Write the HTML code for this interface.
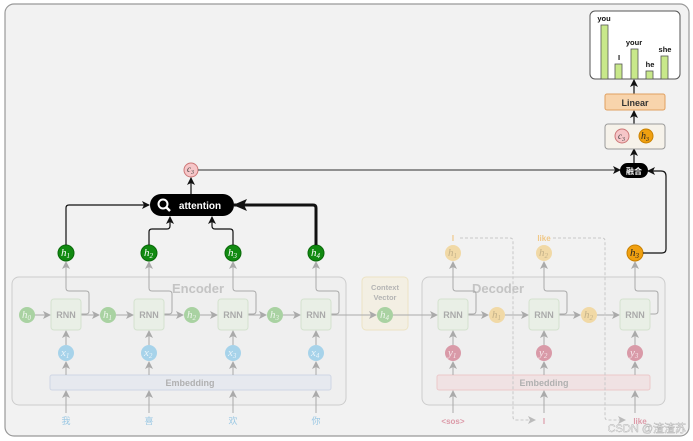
<!DOCTYPE html>
<html><head><meta charset="utf-8"><style>
html,body{margin:0;padding:0;background:#fff;}
svg{display:block;font-family:"Liberation Sans","Noto Sans CJK SC",sans-serif;}
</style></head><body>
<svg width="693" height="441" viewBox="0 0 693 441" xmlns="http://www.w3.org/2000/svg">
<defs>
<marker id="ag" markerWidth="8" markerHeight="8" refX="7" refY="4" orient="auto" markerUnits="userSpaceOnUse"><path d="M0,0 L8,4 L0,8 L2,4z" fill="#aaa"/></marker>
<marker id="ab" markerWidth="8" markerHeight="8" refX="7" refY="4" orient="auto" markerUnits="userSpaceOnUse"><path d="M0,0 L8,4 L0,8 L2,4z" fill="#111"/></marker>
<marker id="abig" markerWidth="14" markerHeight="12" refX="13" refY="6" orient="auto" markerUnits="userSpaceOnUse"><path d="M0,0 L14,6 L0,12 L3,6z" fill="#111"/></marker>
<marker id="ad" markerWidth="8" markerHeight="8" refX="7" refY="4" orient="auto" markerUnits="userSpaceOnUse"><path d="M0,0 L8,4 L0,8 L2,4z" fill="#bbb"/></marker>
</defs>
<rect x="5" y="4" width="684" height="432" rx="9" fill="#f2f2f2" stroke="#999" stroke-width="1.2"/>

<rect x="12" y="277" width="334" height="128" rx="7" fill="#efefef" stroke="#ccc"/>
<text x="198" y="293" font-size="13" font-weight="bold" fill="#c4c4c4" text-anchor="middle">Encoder</text>
<rect x="50" y="375" width="281" height="15" rx="2" fill="#e6e9ef" stroke="#cfd6e4"/>
<text x="190" y="386" font-size="9" font-weight="bold" fill="#b0b0b0" text-anchor="middle">Embedding</text>
<rect x="422" y="277" width="243" height="128" rx="7" fill="#efefef" stroke="#ccc"/>
<text x="498" y="293" font-size="13" font-weight="bold" fill="#c4c4c4" text-anchor="middle">Decoder</text>
<rect x="437" y="375" width="213" height="15" rx="2" fill="#f0e2e3" stroke="#ebc8ca"/>
<text x="544" y="386" font-size="9" font-weight="bold" fill="#b0b0b0" text-anchor="middle">Embedding</text>
<rect x="362" y="277" width="46" height="53" rx="4" fill="#f3efe3" stroke="#ece3c4"/>
<text x="385" y="290" font-size="7.5" font-weight="bold" fill="#b4b4b4" text-anchor="middle">Context</text>
<text x="385" y="300" font-size="7.5" font-weight="bold" fill="#b4b4b4" text-anchor="middle">Vector</text>

<g fill="none" stroke="#aaa" stroke-width="1">
<line x1="35" y1="315" x2="50" y2="315" marker-end="url(#ag)"/>
<line x1="81" y1="315" x2="99" y2="315" marker-end="url(#ag)"/>
<line x1="116" y1="315" x2="133" y2="315" marker-end="url(#ag)"/>
<line x1="164" y1="315" x2="183" y2="315" marker-end="url(#ag)"/>
<line x1="200" y1="315" x2="217" y2="315" marker-end="url(#ag)"/>
<line x1="248" y1="315" x2="266" y2="315" marker-end="url(#ag)"/>
<line x1="283" y1="315" x2="300" y2="315" marker-end="url(#ag)"/>
<line x1="331" y1="315" x2="376" y2="315" marker-end="url(#ag)"/>
<line x1="393" y1="315" x2="437" y2="315" marker-end="url(#ag)"/>
<line x1="468" y1="315" x2="488" y2="315" marker-end="url(#ag)"/>
<line x1="505" y1="315" x2="528" y2="315" marker-end="url(#ag)"/>
<line x1="559" y1="315" x2="580" y2="315" marker-end="url(#ag)"/>
<line x1="597" y1="315" x2="619" y2="315" marker-end="url(#ag)"/>
<path d="M81,314 H86 Q89,314 89,311 V294 Q89,291 86,291 H69 Q66,291 66,288 V262" marker-end="url(#ag)"/>
<path d="M164,314 H169 Q172,314 172,311 V294 Q172,291 169,291 H152 Q149,291 149,288 V262" marker-end="url(#ag)"/>
<path d="M248,314 H253 Q256,314 256,311 V294 Q256,291 253,291 H236 Q233,291 233,288 V262" marker-end="url(#ag)"/>
<path d="M331,314 H336 Q339,314 339,311 V294 Q339,291 336,291 H319 Q316,291 316,288 V262" marker-end="url(#ag)"/>
<path d="M468,314 H473 Q476,314 476,311 V294 Q476,291 473,291 H456 Q453,291 453,288 V262" marker-end="url(#ag)"/>
<path d="M559,314 H564 Q567,314 567,311 V294 Q567,291 564,291 H547 Q544,291 544,288 V262" marker-end="url(#ag)"/>
<path d="M650,314 H655 Q658,314 658,311 V294 Q658,291 655,291 H638 Q635,291 635,288 V262" marker-end="url(#ag)"/>
<line x1="66" y1="345" x2="66" y2="331" marker-end="url(#ag)"/><line x1="66" y1="375" x2="66" y2="362" marker-end="url(#ag)"/><line x1="66" y1="413" x2="66" y2="391" marker-end="url(#ag)"/>
<line x1="149" y1="345" x2="149" y2="331" marker-end="url(#ag)"/><line x1="149" y1="375" x2="149" y2="362" marker-end="url(#ag)"/><line x1="149" y1="413" x2="149" y2="391" marker-end="url(#ag)"/>
<line x1="233" y1="345" x2="233" y2="331" marker-end="url(#ag)"/><line x1="233" y1="375" x2="233" y2="362" marker-end="url(#ag)"/><line x1="233" y1="413" x2="233" y2="391" marker-end="url(#ag)"/>
<line x1="316" y1="345" x2="316" y2="331" marker-end="url(#ag)"/><line x1="316" y1="375" x2="316" y2="362" marker-end="url(#ag)"/><line x1="316" y1="413" x2="316" y2="391" marker-end="url(#ag)"/>
<line x1="453" y1="345" x2="453" y2="331" marker-end="url(#ag)"/><line x1="453" y1="375" x2="453" y2="362" marker-end="url(#ag)"/><line x1="453" y1="413" x2="453" y2="391" marker-end="url(#ag)"/>
<line x1="544" y1="345" x2="544" y2="331" marker-end="url(#ag)"/><line x1="544" y1="375" x2="544" y2="362" marker-end="url(#ag)"/><line x1="544" y1="413" x2="544" y2="391" marker-end="url(#ag)"/>
<line x1="635" y1="345" x2="635" y2="331" marker-end="url(#ag)"/><line x1="635" y1="375" x2="635" y2="362" marker-end="url(#ag)"/><line x1="635" y1="413" x2="635" y2="391" marker-end="url(#ag)"/>
</g>
<g fill="none" stroke="#c8c8c8" stroke-width="1" stroke-dasharray="3,2">
<path d="M460,238 H510 Q513,238 513,241 V417 Q513,420 516,420 H535" marker-end="url(#ad)"/>
<path d="M553,238 H602 Q605,238 605,241 V417 Q605,420 608,420 H625" marker-end="url(#ad)"/>
</g>

<g fill="#e9efe6" stroke="#d4e2cf">
<rect x="51" y="299" width="30" height="31" rx="3"/><rect x="134" y="299" width="30" height="31" rx="3"/>
<rect x="218" y="299" width="30" height="31" rx="3"/><rect x="301" y="299" width="30" height="31" rx="3"/>
<rect x="438" y="299" width="30" height="31" rx="3"/><rect x="529" y="299" width="30" height="31" rx="3"/>
<rect x="620" y="299" width="30" height="31" rx="3"/>
</g>
<g font-size="9" font-weight="bold" fill="#aaa" text-anchor="middle">
<text x="66" y="318">RNN</text><text x="149" y="318">RNN</text><text x="233" y="318">RNN</text><text x="316" y="318">RNN</text>
<text x="453" y="318">RNN</text><text x="544" y="318">RNN</text><text x="635" y="318">RNN</text>
</g>

<g fill="#a9d2a2"><circle cx="27" cy="315" r="8"/><circle cx="108" cy="315" r="8"/><circle cx="192" cy="315" r="8"/><circle cx="275" cy="315" r="8"/><circle cx="385" cy="315" r="8"/></g>
<g fill="#a7d3ea"><circle cx="66" cy="353" r="8"/><circle cx="149" cy="353" r="8"/><circle cx="233" cy="353" r="8"/><circle cx="316" cy="353" r="8"/></g>
<g fill="#d99aa8"><circle cx="453" cy="353" r="8"/><circle cx="544" cy="353" r="8"/><circle cx="635" cy="353" r="8"/></g>
<g fill="#f1d9a6"><circle cx="497" cy="315" r="8"/><circle cx="589" cy="315" r="8"/><circle cx="453" cy="253" r="8"/><circle cx="544" cy="253" r="8"/></g>
<circle cx="635" cy="253" r="8" fill="#f0a010" stroke="#c98000"/>
<g fill="#118a11" stroke="#0a6a0a"><circle cx="66" cy="253" r="8"/><circle cx="149" cy="253" r="8"/><circle cx="233" cy="253" r="8"/><circle cx="316" cy="253" r="8"/></g>
<circle cx="191" cy="170" r="7" fill="#f6c6c8" stroke="#c77"/>

<g font-family="Liberation Serif,serif" font-style="italic" font-size="11">
<g fill="#eef6ec">
<text x="22" y="318">h<tspan font-size="7" dy="2">0</tspan></text>
<text x="103" y="318">h<tspan font-size="7" dy="2">1</tspan></text>
<text x="187" y="318">h<tspan font-size="7" dy="2">2</tspan></text>
<text x="270" y="318">h<tspan font-size="7" dy="2">3</tspan></text>
<text x="380" y="318">h<tspan font-size="7" dy="2">4</tspan></text>
</g>
<g fill="#eaf4fa">
<text x="61" y="356">x<tspan font-size="7" dy="2">1</tspan></text>
<text x="144" y="356">x<tspan font-size="7" dy="2">2</tspan></text>
<text x="228" y="356">x<tspan font-size="7" dy="2">3</tspan></text>
<text x="311" y="356">x<tspan font-size="7" dy="2">4</tspan></text>
</g>
<g fill="#f6e6ea">
<text x="448" y="356">y<tspan font-size="7" dy="2">1</tspan></text>
<text x="539" y="356">y<tspan font-size="7" dy="2">2</tspan></text>
<text x="630" y="356">y<tspan font-size="7" dy="2">3</tspan></text>
</g>
<g fill="#c4b28a">
<text x="492" y="318">h<tspan font-size="7" dy="2">1</tspan></text>
<text x="584" y="318">h<tspan font-size="7" dy="2">2</tspan></text>
<text x="448" y="256">h<tspan font-size="7" dy="2">1</tspan></text>
<text x="539" y="256">h<tspan font-size="7" dy="2">2</tspan></text>
</g>
<text x="630" y="256" fill="#222">h<tspan font-size="7" dy="2">3</tspan></text>
<g fill="#fff">
<text x="61" y="256">h<tspan font-size="7" dy="2">1</tspan></text>
<text x="144" y="256">h<tspan font-size="7" dy="2">2</tspan></text>
<text x="228" y="256">h<tspan font-size="7" dy="2">3</tspan></text>
<text x="311" y="256">h<tspan font-size="7" dy="2">4</tspan></text>
</g>
<text x="187" y="172" fill="#444" font-size="9">c<tspan font-size="6" dy="2">3</tspan></text>
<text x="618" y="138" fill="#444" font-size="9">c<tspan font-size="6" dy="2">3</tspan></text>
</g>

<g font-size="8" font-weight="bold" text-anchor="middle">
<text x="453" y="241" fill="#f0c888">I</text><text x="544" y="241" fill="#f0c888">like</text>
<text x="453" y="424" fill="#dc9aa8">&lt;sos&gt;</text><text x="544" y="424" fill="#dc9aa8">I</text><text x="640" y="424" fill="#dc9aa8">like</text>
</g>
<g font-size="9" fill="#9ac8e4" text-anchor="middle"><text x="66" y="424">我</text><text x="149" y="424">喜</text><text x="233" y="424">欢</text><text x="316" y="424">你</text></g>

<g fill="none" stroke="#111" stroke-width="1.2">
<path d="M66,245 V208 Q66,205 69,205 H149" marker-end="url(#ab)"/>
<path d="M149,245 V232 Q149,229 152,229 H167 Q170,229 170,226 V217" marker-end="url(#ab)"/>
<path d="M233,245 V232 Q233,229 230,229 H215 Q212,229 212,226 V217" marker-end="url(#ab)"/>
<path d="M316,245 V208 Q316,205 313,205 H234" stroke-width="3" marker-end="url(#abig)"/>
<line x1="191" y1="194" x2="191" y2="178" marker-end="url(#ab)"/>
<line x1="198" y1="170" x2="620" y2="170" stroke="#555" marker-end="url(#ab)"/>
<path d="M643,253 H662 Q666,253 666,249 V176 Q666,171 661,171 H648" marker-end="url(#ab)"/>
<line x1="634" y1="163" x2="634" y2="149" marker-end="url(#ab)"/>
<line x1="634" y1="124" x2="634" y2="111" marker-end="url(#ab)"/>
<line x1="634" y1="94" x2="634" y2="80" marker-end="url(#ab)"/>
</g>
<rect x="150" y="194" width="84" height="22" rx="11" fill="#000"/>
<circle cx="163" cy="204" r="4.5" fill="none" stroke="#fff" stroke-width="2"/><line x1="166" y1="207" x2="170" y2="211" stroke="#fff" stroke-width="2.5"/>
<text x="200" y="209" font-size="10" font-weight="bold" fill="#fff" text-anchor="middle">attention</text>
<rect x="620" y="163" width="28" height="15" rx="7.5" fill="#000"/>
<text x="634" y="174" font-size="8" font-weight="bold" fill="#fff" text-anchor="middle">融合</text>
<rect x="605" y="124" width="60" height="25" rx="3" fill="#f6f2ea" stroke="#999"/>
<circle cx="622" cy="136" r="7" fill="#f6c6c8" stroke="#c77"/>
<circle cx="646" cy="136" r="7" fill="#f0a010" stroke="#c98000"/>
<text x="641" y="139" font-family="Liberation Serif,serif" font-style="italic" font-size="10" fill="#222">h<tspan font-size="6" dy="2">3</tspan></text>
<text x="618" y="139" font-family="Liberation Serif,serif" font-style="italic" font-size="9" fill="#444">c<tspan font-size="6" dy="2">3</tspan></text>
<rect x="605" y="94" width="60" height="16" rx="2" fill="#f8d4ac" stroke="#e0a060"/>
<text x="635" y="106" font-size="9" font-weight="bold" fill="#333" text-anchor="middle">Linear</text>
<rect x="590" y="11" width="90" height="68" rx="5" fill="#fff" stroke="#555"/>
<g fill="#c8e88a" stroke="#555" stroke-width="0.8">
<rect x="601" y="25" width="7" height="54"/><rect x="615" y="64" width="7" height="15"/><rect x="631" y="49" width="7" height="30"/><rect x="646" y="71" width="7" height="8"/><rect x="661" y="56" width="7" height="23"/>
</g>
<g font-size="7.5" font-weight="bold" fill="#111" text-anchor="middle">
<text x="604" y="21">you</text><text x="619" y="60">I</text><text x="634" y="45">your</text><text x="650" y="67">he</text><text x="665" y="52">she</text>
</g>
<text x="686" y="432" font-size="11" fill="#fff" stroke="#aaa" stroke-width="0.4" text-anchor="end">CSDN @渣渣苏</text>
</svg>
</body></html>
